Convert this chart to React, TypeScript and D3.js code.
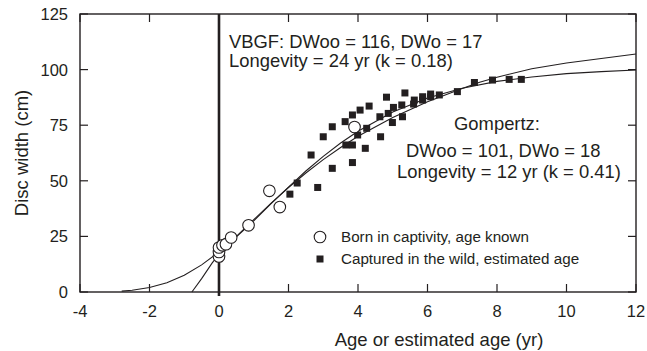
import * as d3 from 'd3'

// Fitted growth curves (age in yr, disc width in cm)
const vbgfCurve: [number, number][] = [
  [-0.78, 0], [-0.5, 6], [-0.2, 13], [0, 17], [0.5, 25], [1, 32.5], [1.5, 40], [2, 47],
  [2.5, 53.5], [3, 59.5], [3.5, 65], [4, 70], [5, 78.5], [6, 85.5], [7, 91.5],
  [7.5, 94.3], [8, 96.6], [9, 100.4], [10, 103], [11, 105], [12, 107]
]

const gompertzCurve: [number, number][] = [
  [-2.8, 0.4], [-2.5, 0.8], [-2, 2], [-1.5, 4.2], [-1, 7.5], [-0.5, 12.2], [0, 18],
  [0.5, 24.8], [1, 32], [1.5, 39.7], [2, 47.2], [2.5, 54.4], [3, 61], [3.5, 67],
  [4, 72.3], [5, 80.9], [6, 87.2], [7, 91.6], [8, 94.7], [9, 96.7], [10, 98.2],
  [11, 99.1], [12, 99.8]
]

// Born in captivity, age known
const captiveFish: [number, number][] = [
  [0, 16], [0, 18], [0, 20], [0.1, 21], [0.2, 21.5], [0.35, 24.5], [0.85, 30],
  [1.45, 45.5], [1.75, 38.2], [3.9, 74.2]
]

// Captured in the wild, estimated age
const wildFish: [number, number][] = [
  [0, 15], [0, 16.5], [0, 18], [0, 19.5], [-0.05, 17.5], [0.05, 16],
  [2.04, 44], [2.25, 49], [2.65, 61.6], [2.84, 47], [3.0, 69.8], [3.26, 74.3],
  [3.26, 55.6], [3.63, 76.6], [3.65, 66.1], [3.84, 66.1], [3.84, 79.6], [3.84, 58.2],
  [3.99, 70.6], [4.06, 81.8], [4.21, 64.6], [4.25, 73.6], [4.32, 83.6], [4.63, 78.8],
  [4.65, 69.8], [4.82, 87.6], [4.87, 80.3], [4.99, 76.2], [5.02, 83], [5.26, 84.1],
  [5.28, 78.8], [5.35, 89.5], [5.6, 84.5], [5.62, 86.3], [5.86, 86.3], [5.86, 87.8],
  [6.09, 87.8], [6.09, 89], [6.34, 88.6], [6.86, 90.1], [7.35, 94.2], [7.87, 95.3],
  [8.35, 95.6], [8.7, 95.6]
]

const xTicks = [-4, -2, 0, 2, 4, 6, 8, 10, 12]
const yTicks = [0, 25, 50, 75, 100, 125]

const W = 647
const H = 351
const plot = { left: 80, right: 636, top: 14, bottom: 292 }
const font = '"Liberation Sans", Arial, Helvetica, sans-serif'
const ink = '#231f20'

export default function App() {
  const x = d3.scaleLinear().domain([-4, 12]).range([plot.left, plot.right])
  const y = d3.scaleLinear().domain([0, 125]).range([plot.bottom, plot.top])
  const line = d3.line<[number, number]>().x(d => x(d[0])).y(d => y(d[1]))
  const tick = 8

  return (
    <svg width={W} height={H} style={{ position: 'absolute', left: 0, top: 0, background: '#fff' }}
      fontFamily={font} fill={ink}>
      <rect x={plot.left} y={plot.top} width={plot.right - plot.left} height={plot.bottom - plot.top}
        fill="none" stroke={ink} strokeWidth={1.4} />

      {/* ticks on all four sides, pointing inward */}
      {xTicks.map(t => (
        <g key={'x' + t}>
          <line x1={x(t)} x2={x(t)} y1={plot.bottom} y2={plot.bottom - tick} stroke={ink} strokeWidth={1.2} />
          <line x1={x(t)} x2={x(t)} y1={plot.top} y2={plot.top + tick} stroke={ink} strokeWidth={1.2} />
          <text x={x(t)} y={plot.bottom + 25} textAnchor="middle" fontSize={16.5}>{t}</text>
        </g>
      ))}
      {yTicks.map(t => (
        <g key={'y' + t}>
          <line x1={plot.left} x2={plot.left + tick} y1={y(t)} y2={y(t)} stroke={ink} strokeWidth={1.2} />
          <line x1={plot.right} x2={plot.right - tick} y1={y(t)} y2={y(t)} stroke={ink} strokeWidth={1.2} />
          <text x={plot.left - 12} y={y(t) + 6} textAnchor="end" fontSize={16.5}>{t}</text>
        </g>
      ))}

      {/* age zero marker */}
      <line x1={x(0)} x2={x(0)} y1={plot.top} y2={plot.bottom + 4} stroke={ink} strokeWidth={2.6} />

      <path d={line(vbgfCurve) ?? ''} fill="none" stroke={ink} strokeWidth={1.1} />
      <path d={line(gompertzCurve) ?? ''} fill="none" stroke={ink} strokeWidth={1.1} />

      {wildFish.map((d, i) => (
        <rect key={'w' + i} x={x(d[0]) - 3.5} y={y(d[1]) - 3.5} width={7} height={7} fill={ink} />
      ))}
      {captiveFish.map((d, i) => (
        <circle key={'c' + i} cx={x(d[0])} cy={y(d[1])} r={5.8} fill="#fff" stroke={ink} strokeWidth={1.1} />
      ))}

      {/* annotations */}
      <text x={229} y={48} fontSize={18.4}>VBGF: DWoo = 116, DWo = 17</text>
      <text x={229} y={67} fontSize={18.4}>Longevity = 24 yr (k = 0.18)</text>
      <text x={497} y={130} textAnchor="middle" fontSize={18.4}>Gompertz:</text>
      <text x={406} y={157} fontSize={18.4}>DWoo = 101, DWo = 18</text>
      <text x={397} y={178} fontSize={18.4}>Longevity = 12 yr (k = 0.41)</text>

      {/* legend */}
      <circle cx={320} cy={237} r={5.8} fill="#fff" stroke={ink} strokeWidth={1.1} />
      <text x={341} y={242} fontSize={15.2}>Born in captivity, age known</text>
      <rect x={316.5} y={255.5} width={7} height={7} fill={ink} />
      <text x={341} y={264} fontSize={15.2}>Captured in the wild, estimated age</text>

      <text x={439} y={346} textAnchor="middle" fontSize={18.5}>Age or estimated age (yr)</text>
      <text transform={`translate(28,${(plot.top + plot.bottom) / 2}) rotate(-90)`} textAnchor="middle" fontSize={18.5}>
        Disc width (cm)
      </text>
    </svg>
  )
}
